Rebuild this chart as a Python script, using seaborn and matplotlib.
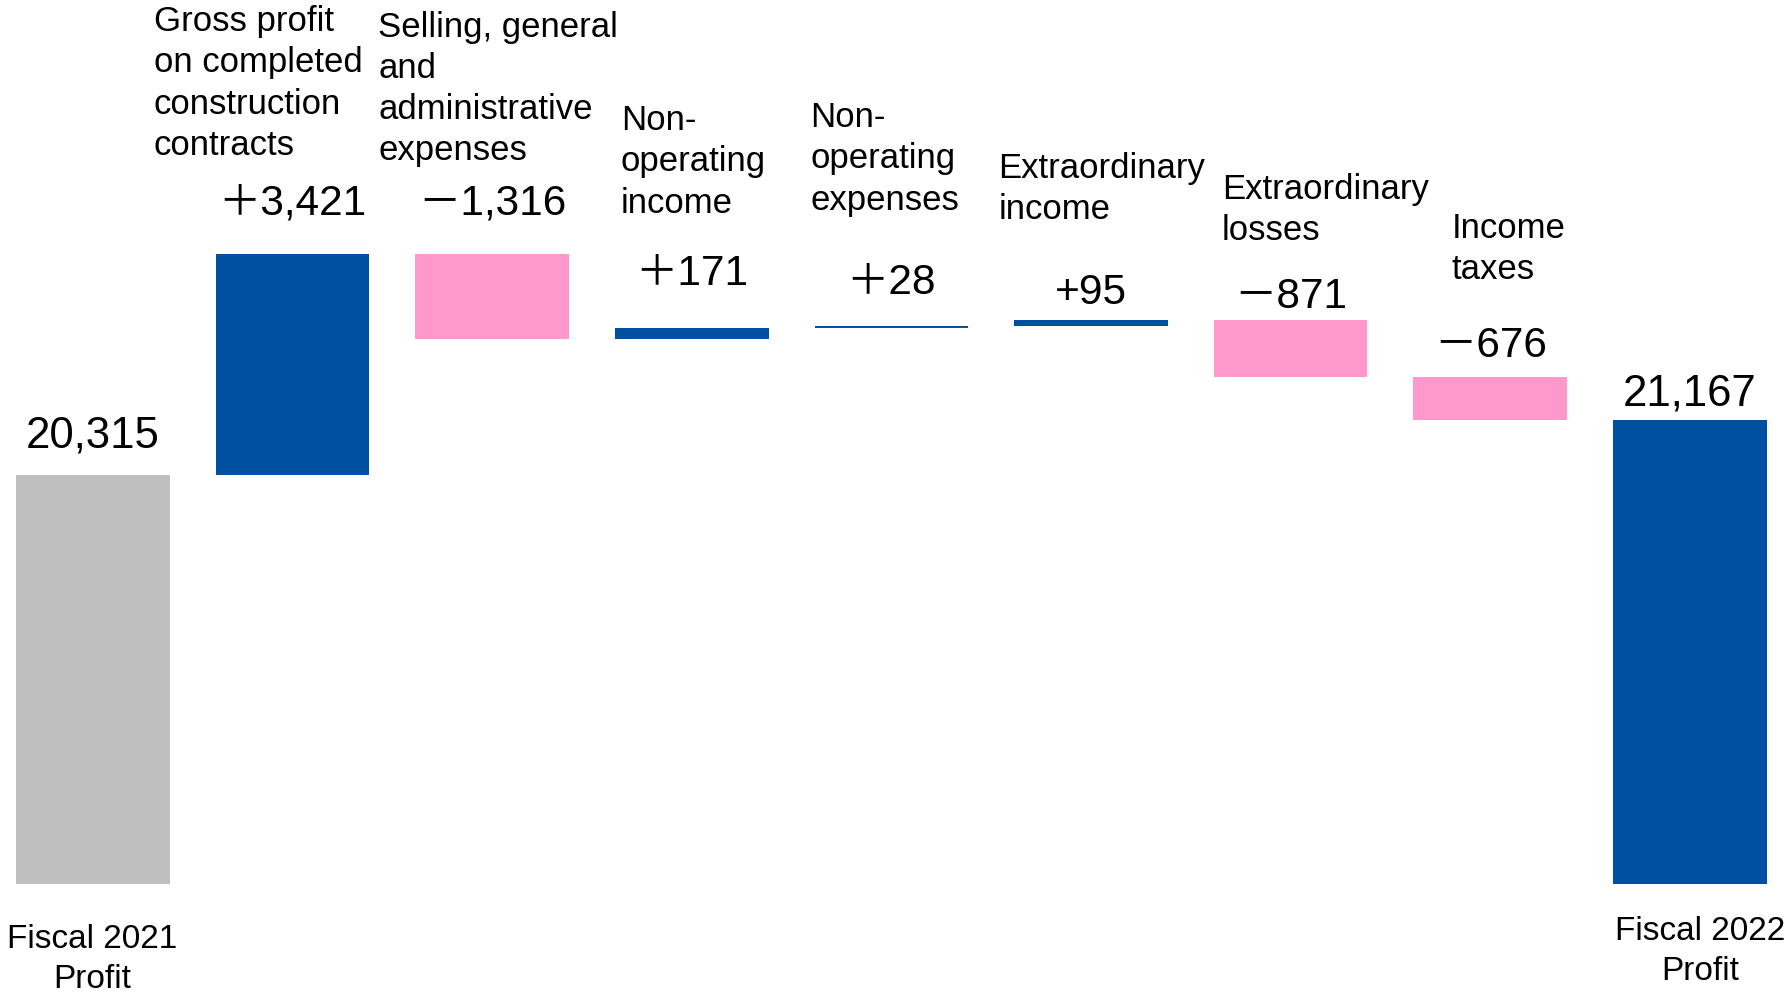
import pandas as pd
import seaborn as sns
import matplotlib.pyplot as plt

# -----------------------------
# DATA
# -----------------------------

categories = [
    "Fiscal 2021\nProfit",
    "Gross profit\non completed\nconstruction\ncontracts",
    "Selling, general\nand\nadministrative\nexpenses",
    "Non-\noperating\nincome",
    "Non-\noperating\nexpenses",
    "Extraordinary\nincome",
    "Extraordinary\nlosses",
    "Income\ntaxes",
    "Fiscal 2022\nProfit",
]
amounts = [20315, 3421, -1316, 171, 28, 95, -871, -676, 21167]
kinds = ["start", "step", "step", "step", "step", "step", "step", "step", "total"]
value_labels = ["20,315", "＋3,421", "－1,316", "＋171", "＋28", "+95", "－871", "－676", "21,167"]

# -----------------------------
# SETUP
# -----------------------------

sns.set_theme(style="white")
plt.rcParams['font.family'] = ['Liberation Sans', 'Noto Sans CJK JP', 'DejaVu Sans']

BLUE = "#0050A2"
PINK = "#FF99CC"
GREY = "#BFBFBF"
floor = 14000
bar_w = 0.77

# build the waterfall table
rows = []
running = 0
for cat, amt, kind in zip(categories, amounts, kinds):
    if kind in ("start", "total"):
        bottom, top = floor, amt
        running = amt
        color = GREY if kind == "start" else BLUE
    else:
        bottom, top = sorted([running, running + amt])
        running += amt
        color = BLUE if amt > 0 else PINK
    rows.append({"cat": cat, "bottom": bottom, "top": top, "color": color, "kind": kind})
df = pd.DataFrame(rows)
df["height"] = df["top"] - df["bottom"]

fig = plt.figure(figsize=(17.88, 9.95), dpi=100)
ax = fig.add_axes([0, 0, 1, 1])

ax.bar(range(len(df)), df["height"], bottom=df["bottom"], width=bar_w,
       color=df["color"], edgecolor="none")

ax.set_xlim(-0.466, 8.492)
ax.set_ylim(12300, 27679)
ax.axis("off")

# -----------------------------
# LABELS
# -----------------------------

PT = 0.72  # pixels -> points at 100 dpi

# value labels above each bar (gap in px from bar top to baseline)
gaps = [29, 41, 41, 44, 33, 17, 13, 21, 16]
for i, row in df.iterrows():
    size = 31.5 if row["kind"] != "step" else 30.5
    ax.annotate(value_labels[i], xy=(i, row["top"]), xytext=(0, gaps[i] * PT),
                textcoords="offset points", ha="center", va="baseline",
                fontsize=size, color="black")

# category captions at top (x offset from bar left, first baseline, px)
cap_pos = {1: (-62, 31), 2: (-37, 36.5), 3: (6, 130), 4: (-4, 127),
           5: (-16, 178), 6: (8, 199), 7: (38, 238)}
line_gap = 41.3
for i, (dx, base) in cap_pos.items():
    for k, line in enumerate(categories[i].split("\n")):
        ax.annotate(line, xy=(i - bar_w / 2, 1), xycoords=("data", "axes fraction"),
                    xytext=(dx * PT, -(base + k * line_gap) * PT), textcoords="offset points",
                    ha="left", va="baseline", fontsize=25, color="black")

# start / end captions under the bars
bottom_pos = {0: (-1, 948), 8: (10, 940)}
for i, (dx, base) in bottom_pos.items():
    for k, line in enumerate(categories[i].split("\n")):
        ax.annotate(line, xy=(i, 1), xycoords=("data", "axes fraction"),
                    xytext=(dx * PT, -(base + k * 40) * PT), textcoords="offset points",
                    ha="center", va="baseline", fontsize=24, color="black")

fig.savefig("out.png", dpi=100)
